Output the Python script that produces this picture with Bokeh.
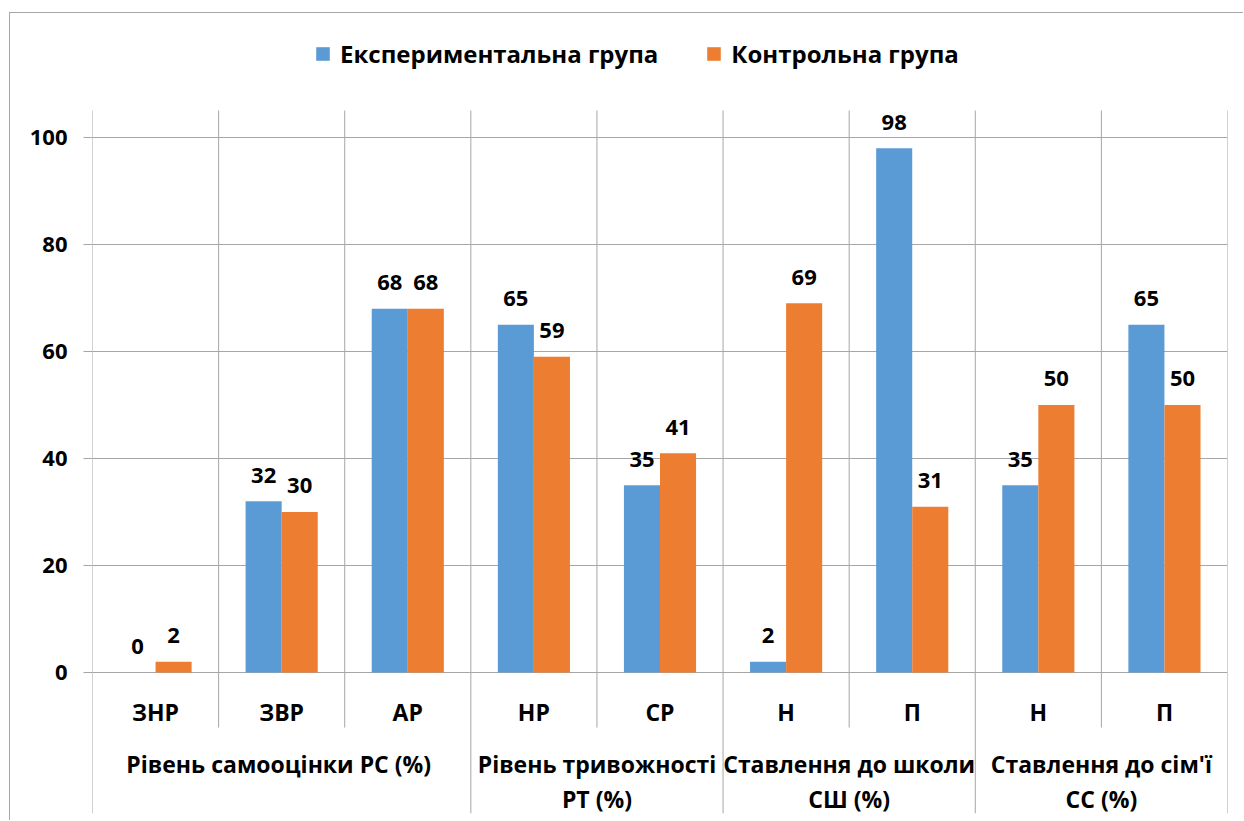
from bokeh.plotting import figure
from bokeh.models import (ColumnDataSource, FactorRange, Range1d, FixedTicker,
                          Legend, LegendItem)
from bokeh.transform import dodge
from bokeh.core.properties import value
from bokeh.embed import file_html
from bokeh.resources import INLINE

# ---------------- data ----------------
groups = ["Рівень самооцінки РС  (%)", "Рівень тривожності\nРТ (%)",
          "Ставлення до школи\nСШ (%)", "Ставлення до сім'ї\nСС (%)"]
subcats = [["ЗНР", "ЗВР", "АР"], ["НР", "СР"], ["Н", "П"], ["Н", "П"]]
exp_vals = [0, 32, 68, 65, 35, 2, 98, 35, 65]
ctrl_vals = [2, 30, 68, 59, 41, 69, 31, 50, 50]
series_names = ["Експериментальна група", "Контрольна група"]
y_ticks = [0, 20, 40, 60, 80, 100]

BLUE = "#5B9BD5"
ORANGE = "#ED7D31"
GRID = "#A6A6A6"
FONT = "Open Sans"
FS_NUM = "22px"
FS_CAT = "23px"
FS_LEG = "24px"

Y_TOP_GRID = 105.05   # top of the vertical separators
Y_MIN, Y_MAX = -26.36, 123.18

factors = [(g, s) for g, subs in zip(groups, subcats) for s in subs]

p = figure(width=1234, height=808, output_backend="svg", toolbar_location=None,
           x_range=FactorRange(factors=factors, factor_padding=0, group_padding=0,
                               subgroup_padding=0, range_padding=0),
           y_range=Range1d(Y_MIN, Y_MAX),
           x_axis_location=None, y_axis_location="left",
           min_border_left=82, min_border_right=17, min_border_top=0, min_border_bottom=8)
p.styles = {"margin-left": "9px", "margin-top": "12px",
            "border-left": "1px solid " + GRID, "border-top": "1px solid " + GRID}
p.outline_line_color = None
p.xgrid.visible = False

ticker = FixedTicker(ticks=y_ticks)
p.yaxis.ticker = ticker
p.ygrid.ticker = ticker
p.ygrid.grid_line_color = GRID
p.yaxis.axis_line_color = None
p.yaxis.major_tick_in = 0
p.yaxis.major_tick_out = 9
p.yaxis.major_tick_line_color = GRID
p.yaxis.minor_tick_line_color = None
p.yaxis.major_label_standoff = 16
p.yaxis.major_label_text_font = FONT
p.yaxis.major_label_text_font_size = FS_NUM
p.yaxis.major_label_text_font_style = "bold"
p.yaxis.major_label_text_color = "black"

# separators (category boundaries)
grp_x, sub_x = [], []
for g, subs in zip(groups, subcats):
    grp_x.append((g, subs[0], -0.5))
    for s in subs[1:]:
        sub_x.append((g, s, -0.5))
grp_x.append((groups[-1], subcats[-1][-1], 0.5))
p.segment(x0=grp_x, x1=grp_x, y0=Y_TOP_GRID, y1=Y_MIN, line_color=GRID, line_width=1)
p.segment(x0=sub_x, x1=sub_x, y0=Y_TOP_GRID, y1=-10.3, line_color=GRID, line_width=1)

src = ColumnDataSource(dict(x=factors, exp=exp_vals, ctrl=ctrl_vals,
                            exp_t=[str(v) for v in exp_vals],
                            ctrl_t=[str(v) for v in ctrl_vals]))
bw = 0.286
r1 = p.vbar(x=dodge("x", -bw / 2, range=p.x_range), top="exp", width=bw, source=src,
            fill_color=BLUE, line_color=None)
r2 = p.vbar(x=dodge("x", bw / 2, range=p.x_range), top="ctrl", width=bw, source=src,
            fill_color=ORANGE, line_color=None)

base = dict(text_font=value(FONT), text_font_style="bold",
            text_color="black", text_align="center", text_baseline="middle")
p.text(x=dodge("x", -bw / 2, range=p.x_range), y="exp", text="exp_t", y_offset=-26,
       source=src, text_font_size=FS_NUM, **base)
p.text(x=dodge("x", bw / 2, range=p.x_range), y="ctrl", text="ctrl_t", y_offset=-26,
       source=src, text_font_size=FS_NUM, **base)

# category labels
p.text(x=factors, y=[-7.3] * len(factors), text=[f[1] for f in factors],
       text_font_size=FS_CAT, **base)
line1 = [g.split("\n")[0] for g in groups]
line2 = [g.split("\n")[1] if "\n" in g else "" for g in groups]
p.text(x=groups, y=[-17.1] * len(groups), text=line1, text_font_size=FS_CAT, **base)
p.text(x=groups, y=[-23.6] * len(groups), text=line2, text_font_size=FS_CAT, **base)

legend = Legend(items=[LegendItem(label=series_names[0], renderers=[r1]),
                       LegendItem(label=series_names[1], renderers=[r2])],
                orientation="horizontal", location=(222, 743),
                padding=0, margin=0, spacing=47, label_standoff=9,
                glyph_width=17, glyph_height=17,
                border_line_color=None, background_fill_alpha=0,
                label_text_font=FONT, label_text_font_size=FS_LEG,
                label_text_font_style="bold", label_text_color="black")
p.add_layout(legend, "center")

open("out.html", "w").write(file_html(p, INLINE))
